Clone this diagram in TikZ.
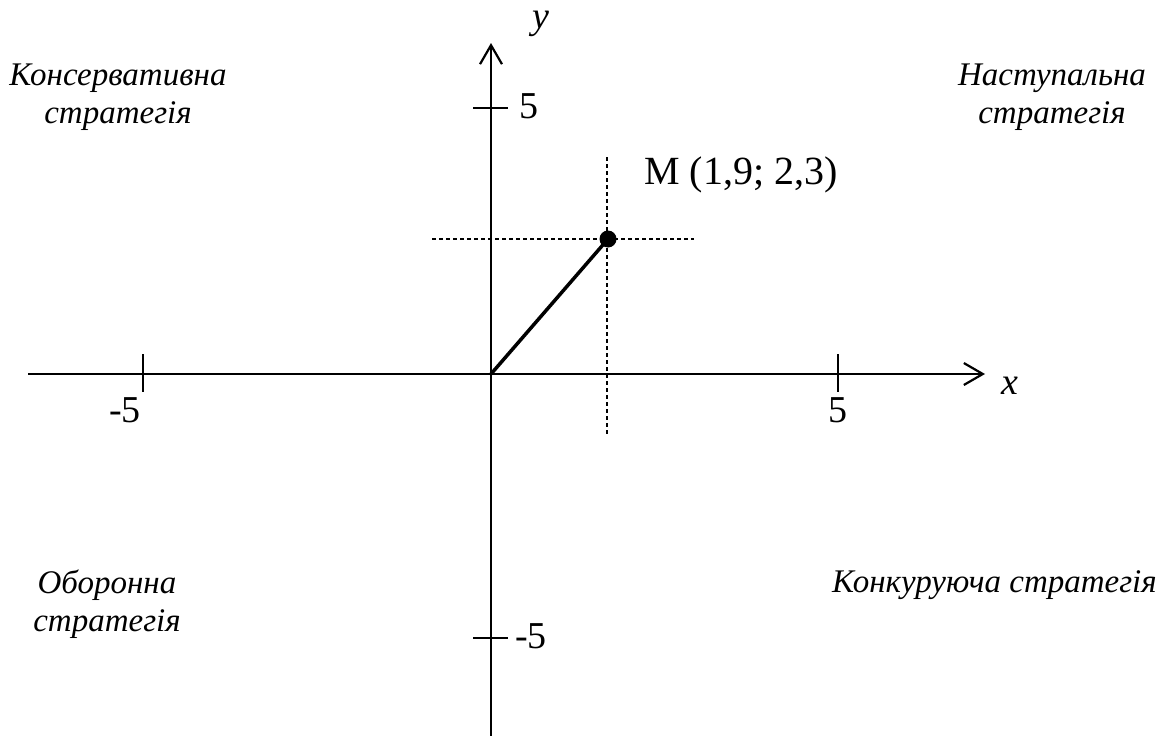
\documentclass[tikz,border=0pt]{standalone}
\usepackage{fontspec}
\setmainfont{Liberation Serif}
\usetikzlibrary{arrows.meta}
\begin{document}
\begin{tikzpicture}[x=1pt,y=-1pt,
  axis/.style={line width=2.2pt},
  axarrow/.style={-{Straight Barb[length=19pt,width=22pt,line width=2.2pt]}},
  tick/.style={line width=2.2pt},
  guide/.style={line width=1.2pt,dash pattern=on 4pt off 3pt},
  num/.style={font=\fontsize{38}{40}\selectfont,inner sep=0pt},
  lab/.style={font=\fontsize{33}{38}\selectfont\itshape,inner sep=0pt,align=center},
  var/.style={font=\fontsize{38}{40}\selectfont\itshape,inner sep=0pt}]
\useasboundingbox (0,0) rectangle (1165,736);
\coordinate (O) at (491,374);
\coordinate (xs) at (28,374);
\coordinate (xe) at (985,374);
\coordinate (ys) at (491,736);
\coordinate (ye) at (491,43);
\draw[axis,axarrow] (xs) -- (xe);
\draw[axis,axarrow] (ys) -- (ye);
% ticks
\coordinate (tx1a) at (143,354); \coordinate (tx1b) at (143,392);
\coordinate (tx2a) at (838,354); \coordinate (tx2b) at (838,392);
\coordinate (ty1a) at (473,108); \coordinate (ty1b) at (508,108);
\coordinate (ty2a) at (473,638); \coordinate (ty2b) at (508,638);
\draw[tick] (tx1a) -- (tx1b);
\draw[tick] (tx2a) -- (tx2b);
\draw[tick] (ty1a) -- (ty1b);
\draw[tick] (ty2a) -- (ty2b);
% tick labels
\node[num] (lxm) at (125,410) {-5};
\node[num] (lxp) at (838,410) {5};
\node[num] (lyp) at (529,106) {5};
\node[num] (lym) at (531,636) {-5};
\node[var] (lx) at (1010,386) {x};
\node[var] (ly) at (541,24) {y};
% guides
\coordinate (M) at (608,239);
\coordinate (hg1) at (432,239); \coordinate (hg2) at (694,239);
\coordinate (vg1) at (607,157); \coordinate (vg2) at (607,436);
\draw[guide] (hg1) -- (hg2);
\draw[guide] (vg1) -- (vg2);
\draw[line width=3.5pt] (O) -- (M);
\fill (M) circle (8.5pt);
\node[anchor=west,inner sep=0pt,font=\fontsize{40}{42}\selectfont] (mlab) at (644,175) {M (1,9; 2,3)};
% quadrant labels
\node[lab] (q1) at (118,97) {Консервативна\\стратегія};
\node[lab] (q2) at (1052,97) {Наступальна\\стратегія};
\node[lab] (q3) at (107,604) {Оборонна\\стратегія};
\node[lab,anchor=west] (q4) at (832,585) {Конкуруюча стратегія};
\end{tikzpicture}
\end{document}
